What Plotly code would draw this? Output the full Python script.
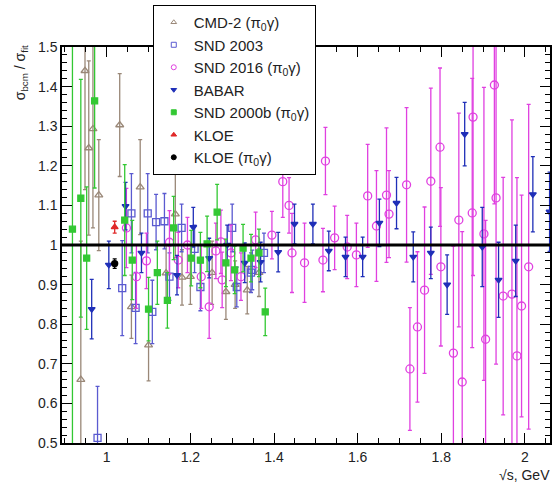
import plotly.graph_objects as go

# CMD-2 (pi0 gamma)
cmd2_x = [0.938, 0.948, 0.957, 0.967, 0.981, 1.031, 1.059, 1.080, 1.100, 1.142, 1.164, 1.180, 1.200, 1.252, 1.285, 1.307, 1.336, 1.364]
cmd2_y = [0.66, 1.44, 1.245, 1.293, 1.126, 1.303, 0.844, 1.146, 0.747, 0.929, 1.078, 0.918, 0.920, 0.930, 0.882, 0.900, 0.886, 0.930]
cmd2_e = [0.35, 0.30, 0.22, 0.25, 0.14, 0.13, 0.08, 0.12, 0.09, 0.07, 0.11, 0.07, 0.07, 0.08, 0.07, 0.06, 0.06, 0.06]

# SND 2003
snd03_x = [0.978, 1.037, 1.059, 1.069, 1.098, 1.109, 1.118, 1.138, 1.150, 1.179, 1.210, 1.224, 1.300, 1.311, 1.345, 1.348, 1.376]
snd03_y = [0.513, 0.891, 1.080, 0.841, 1.080, 0.831, 1.058, 1.060, 0.920, 1.043, 0.990, 0.894, 1.043, 0.894, 0.930, 0.937, 0.980]
snd03_e = [0.13, 0.12, 0.10, 0.09, 0.10, 0.08, 0.07, 0.07, 0.06, 0.06, 0.06, 0.06, 0.06, 0.05, 0.05, 0.05, 0.05]

# SND 2016 (pi0 gamma)
snd16_x = [1.047, 1.071, 1.095, 1.150, 1.171, 1.193, 1.226, 1.245, 1.261, 1.273, 1.276, 1.297, 1.321, 1.356,
           1.395, 1.421, 1.436, 1.443, 1.473, 1.517, 1.523, 1.545, 1.575, 1.597, 1.624, 1.645, 1.669, 1.675,
           1.717, 1.725, 1.743, 1.760, 1.775, 1.797, 1.799, 1.829, 1.842, 1.850, 1.874, 1.876, 1.902, 1.906,
           1.927, 1.931, 1.948, 1.969, 1.981, 1.992, 2.009]
snd16_y = [1.043, 0.920, 0.960, 1.007, 0.962, 1.000, 0.920, 0.844, 0.985, 1.008, 0.912, 0.980, 0.920, 1.013,
           1.025, 1.160, 1.100, 0.980, 0.955, 0.962, 1.212, 1.018, 0.995, 0.975, 1.124, 1.048, 1.126, 1.078,
           1.152, 0.687, 0.793, 0.886, 1.161, 1.247, 0.945, 0.727, 1.063, 0.654, 1.081, 1.323, 1.028, 0.762,
           1.404, 1.119, 0.871, 0.876, 0.720, 0.846, 0.945]
snd16_e = [0.10, 0.08, 0.07, 0.08, 0.07, 0.07, 0.08, 0.08, 0.07, 0.08, 0.07, 0.07, 0.06, 0.07,
           0.06, 0.09, 0.07, 0.10, 0.10, 0.08, 0.085, 0.08, 0.08, 0.08, 0.13, 0.14, 0.17, 0.11,
           0.195, 0.155, 0.19, 0.21, 0.235, 0.20, 0.20, 0.27, 0.27, 0.38, 0.34, 0.40, 0.37, 0.30,
           0.30, 0.42, 0.30, 0.44, 0.45, 0.28, 0.41]

# BABAR
babar_x = [0.964, 1.005, 1.045, 1.083, 1.168, 1.207, 1.245, 1.288, 1.330, 1.368, 1.410, 1.449, 1.493, 1.531,
           1.571, 1.612, 1.652, 1.693, 1.733, 1.775, 1.814, 1.856, 1.898, 1.937, 1.978, 2.019, 2.059]
babar_y = [0.838, 0.950, 1.098, 0.980, 0.924, 1.045, 0.967, 1.000, 0.955, 0.957, 0.982, 1.053, 1.053, 0.985,
           0.970, 0.970, 1.056, 1.106, 0.970, 0.980, 0.900, 1.280, 0.995, 0.912, 0.960, 1.128, 1.084]
babar_e = [0.075, 0.06, 0.06, 0.05, 0.05, 0.05, 0.05, 0.05, 0.05, 0.05, 0.05, 0.05, 0.05, 0.05,
           0.05, 0.05, 0.06, 0.065, 0.063, 0.065, 0.075, 0.08, 0.10, 0.095, 0.09, 0.095, 0.10]

# SND 2000b (pi0 gamma)
snd00_x = [0.918, 0.938, 0.952, 0.971, 1.043, 1.061, 1.100, 1.121, 1.145, 1.160, 1.202, 1.224, 1.240, 1.264,
           1.285, 1.306, 1.326, 1.345, 1.364, 1.379]
snd00_y = [1.040, 1.118, 0.967, 1.364, 1.063, 0.962, 0.838, 0.930, 0.860, 1.043, 0.967, 0.962, 1.003, 1.083,
           0.955, 0.937, 0.992, 0.967, 0.980, 0.831]
snd00_e = [0.60, 0.30, 0.18, 0.22, 0.14, 0.10, 0.08, 0.08, 0.07, 0.08, 0.07, 0.07, 0.07, 0.07,
           0.06, 0.06, 0.06, 0.06, 0.06, 0.06]

# KLOE
kloe_x = [1.019]
kloe_y = [1.045]
kloe_e = [0.015]

# KLOE (pi0 gamma)
kloeg_x = [1.019]
kloeg_y = [0.953]
kloeg_e = [0.012]

series = [
    ("CMD-2 (π<sub>0</sub>γ)", cmd2_x, cmd2_y, cmd2_e, "triangle-up-open", "#9a8878", 7),
    ("SND 2003", snd03_x, snd03_y, snd03_e, "square-open", "#5a5ad0", 7),
    ("SND 2016 (π<sub>0</sub>γ)", snd16_x, snd16_y, snd16_e, "circle-open", "#e040e0", 8),
    ("BABAR", babar_x, babar_y, babar_e, "triangle-down", "#1f2fb8", 6),
    ("SND 2000b (π<sub>0</sub>γ)", snd00_x, snd00_y, snd00_e, "square", "#33c833", 6),
    ("KLOE", kloe_x, kloe_y, kloe_e, "triangle-up", "#e02828", 6),
    ("KLOE (π<sub>0</sub>γ)", kloeg_x, kloeg_y, kloeg_e, "circle", "#000000", 6),
]

fig = go.Figure()
for name, xs, ys, es, sym, col, sz in series:
    fig.add_trace(go.Scatter(
        x=xs, y=ys, name=name, mode="markers", showlegend=False,
        marker=dict(symbol=sym, color=col, size=sz, line=dict(color=col, width=1.3)),
        error_y=dict(type="data", array=es, visible=True, color=col, thickness=1.3, width=2),
    ))
# legend entries with small markers, as in the reference legend
for name, xs, ys, es, sym, col, sz in series:
    fig.add_trace(go.Scatter(
        x=[None], y=[None], name=name, mode="markers", showlegend=True,
        marker=dict(symbol=sym, color=col, size=5, line=dict(color=col, width=1)),
    ))

fig.add_shape(type="line", xref="paper", x0=0, x1=1, yref="y", y0=1, y1=1,
              line=dict(color="black", width=3), layer="above")

axis_common = dict(
    showline=True, linecolor="black", linewidth=1.5, mirror="allticks",
    ticks="inside", tickcolor="black", showgrid=False, zeroline=False,
    tickfont=dict(family="Liberation Sans, Arial, sans-serif", size=14, color="#222"),
)

fig.update_xaxes(range=[0.893, 2.06], tickmode="array",
                 tickvals=[1.0, 1.2, 1.4, 1.6, 1.8, 2.0], ticktext=["1", "1.2", "1.4", "1.6", "1.8", "2"],
                 ticklen=10, tickwidth=1.2,
                 minor=dict(dtick=0.05, tick0=0, ticklen=5, ticks="inside", tickcolor="black", showgrid=False),
                 **axis_common)
fig.update_yaxes(range=[0.5, 1.5], tickmode="array",
                 tickvals=[0.5, 0.6, 0.7, 0.8, 0.9, 1.0, 1.1, 1.2, 1.3, 1.4, 1.5],
                 ticktext=["0.5", "0.6", "0.7", "0.8", "0.9", "1", "1.1", "1.2", "1.3", "1.4", "1.5"],
                 ticklen=10, tickwidth=1.2,
                 minor=dict(dtick=0.02, tick0=0, ticklen=5, ticks="inside", tickcolor="black", showgrid=False),
                 **axis_common)

fig.add_annotation(text="σ<sub>bcm</sub> / σ<sub>fit</sub>", xref="paper", yref="paper",
                   x=-0.085, y=0.935, xanchor="center", yanchor="middle", textangle=-90, showarrow=False,
                   font=dict(family="Liberation Sans, Arial, sans-serif", size=14, color="#222"))
fig.add_annotation(text="√s, GeV", xref="paper", yref="paper",
                   x=1.005, y=-0.055, xanchor="right", yanchor="top", showarrow=False,
                   font=dict(family="Liberation Sans, Arial, sans-serif", size=14, color="#222"))

fig.update_layout(
    width=557, height=484,
    margin=dict(l=62, r=5, t=47, b=41),
    paper_bgcolor="white", plot_bgcolor="white",
    showlegend=True,
    legend=dict(x=0.186, y=1.106, xanchor="left", yanchor="top",
                bordercolor="black", borderwidth=1, bgcolor="white",
                font=dict(family="Liberation Sans, Arial, sans-serif", size=15, color="#222"),
                itemwidth=30, tracegroupgap=0),
)

fig.write_html("out.html")
